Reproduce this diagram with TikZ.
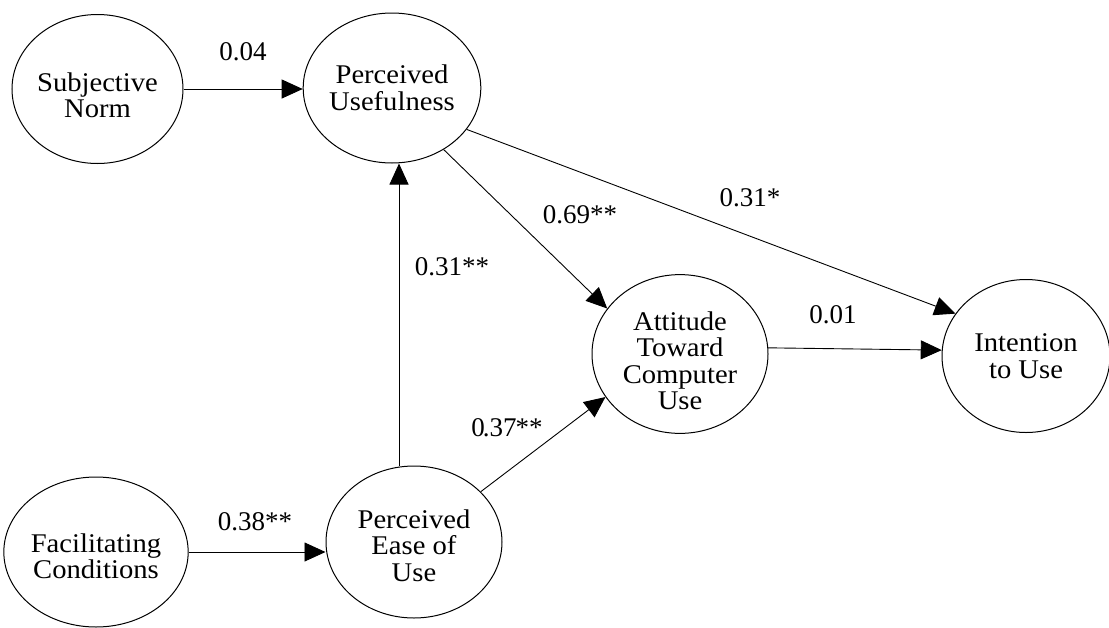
\documentclass[tikz,border=0pt]{standalone}
\usepackage{fontspec}
\setmainfont{Liberation Serif}
\newfontfamily\varfont{Liberation Serif}[FakeStretch=1.06]
\usetikzlibrary{shapes.geometric,arrows.meta}
\begin{document}
\begin{tikzpicture}[x=1pt,y=-1pt,
  var/.style={ellipse,draw,line width=1pt,inner sep=0pt,minimum width=176pt,minimum height=150pt,align=center,font=\varfont\fontsize{27}{26.5}\selectfont},
  lab/.style={inner sep=0pt,font=\fontsize{27}{27}\selectfont},
  arr/.style={line width=0.9pt,-{Triangle[length=21pt,width=19pt]}}]
\clip (0,0) rectangle (1109,627);
\fill[white] (0,0) rectangle (1109,627);
% variables
\node[var,minimum width=171pt,minimum height=149pt] (sn) at (97.5,89) {\mbox{}\\[5pt]Subjective\\Norm};
\node[var] (pu) at (392,88) {Perceived\\Usefulness};
\node[var] (att) at (680,354) {\mbox{}\\[6pt]Attitude\\Toward\\Computer\\Use};
\node[var,minimum width=168pt,minimum height=153pt] (int) at (1026,356) {Intention\\to Use};
\node[var] (fc) at (96,552) {\mbox{}\\[1pt]Facilitating\\Conditions};
\node[var,minimum height=152pt] (peu) at (414,542) {\mbox{}\\[-1pt]Perceived\\Ease of\\Use};
% connectors
\coordinate (vx) at (399,0);
\draw[arr] (sn.east) -- (sn.east -| pu.west);
\draw[arr] (vx |- peu.north) -- (vx |- pu.south);
\draw[arr] (pu.-50) -- (att.148);
\draw[arr] (pu.-29.6) -- (int.149.3);
\draw[arr] (att.4) -- (int.176);
\draw[arr] (peu.37) -- (att.210.8);
\draw[arr] (fc.east) -- (fc.east -| peu.west);
% labels
\node[lab] (l1) at (243,52) {0.04};
\node[lab] (l2) at (452,267) {0.31**};
\node[lab] (l3) at (580,215) {0.69**};
\node[lab] (l4) at (750,198) {0.31*};
\node[lab] (l5) at (833,315) {0.01};
\node[lab] (l6) at (507,428) {0\kern-2pt.37\kern-1pt**};
\node[lab] (l7) at (255,522) {0.38**};
\end{tikzpicture}
\end{document}
